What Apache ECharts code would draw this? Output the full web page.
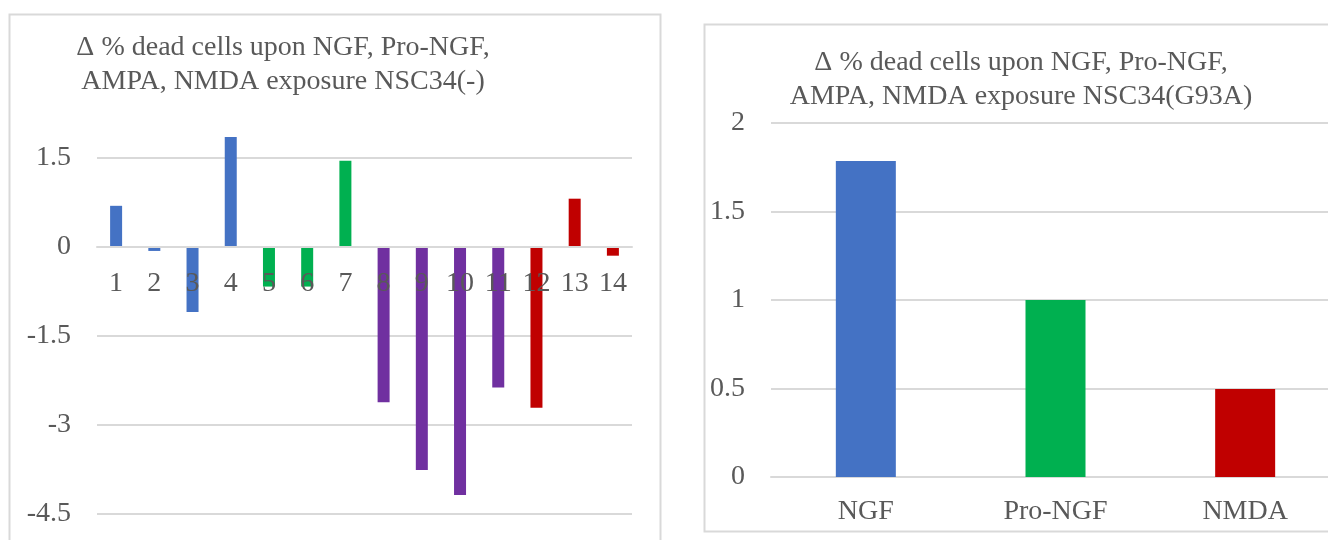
<!DOCTYPE html>
<html>
<head>
<meta charset="utf-8">
<script src="https://cdn.jsdelivr.net/npm/echarts@6/dist/echarts.min.js"></script>
<style>
html,body{margin:0;padding:0;background:#fff;}
#c{width:1328px;height:540px;}
</style>
</head>
<body>
<div id="c"></div>
<script>
// ---- data ----
const leftTitle = 'Δ % dead cells upon NGF, Pro-NGF,\nAMPA, NMDA exposure NSC34(-)';
const rightTitle = 'Δ % dead cells upon NGF, Pro-NGF,\nAMPA, NMDA exposure NSC34(G93A)';
const leftCategories = ['1','2','3','4','5','6','7','8','9','10','11','12','13','14'];
const leftValues = [0.69, -0.07, -1.10, 1.85, -0.67, -0.67, 1.45, -2.62, -3.76, -4.18, -2.37, -2.71, 0.81, -0.15];
const leftGroups = [0, 0, 0, 0, 1, 1, 1, 2, 2, 2, 2, 3, 3, 3];
const rightCategories = ['NGF', 'Pro-NGF', 'NMDA'];
const rightValues = [1.785, 1.0, 0.497];
const rightGroups = [0, 1, 3];

// ---- styles ----
const groupColors = ['#4472C4', '#00B050', '#7030A0', '#C00000'];
const FONT = 'Liberation Serif';
const TXT = '#595959';
const GRID = '#d9d9d9';

const chart = echarts.init(document.getElementById('c'), null, {renderer: 'canvas'});

const titleStyle = {fontFamily: FONT, fontSize: 28, fontWeight: 'normal', color: TXT, lineHeight: 34};
const labelStyle = {fontFamily: FONT, fontSize: 28, color: TXT};

// left value axis range: the category axis sits on the zero line
const L_MIN = -4.5, L_MAX = 1.95, L_TOP = 131, L_H = 383;
const zeroOffset = -Math.round(L_H * (0 - L_MIN) / (L_MAX - L_MIN));

chart.setOption({
  animation: false,
  backgroundColor: '#fff',
  graphic: [
    {type: 'rect', shape: {x: 9.5, y: 14.5, width: 651, height: 600}, style: {fill: 'none', stroke: GRID, lineWidth: 2}, z: -1},
    {type: 'rect', shape: {x: 704.5, y: 24.5, width: 700, height: 507}, style: {fill: 'none', stroke: GRID, lineWidth: 2}, z: -1}
  ],
  title: [
    {text: leftTitle, left: 283, top: 31, textAlign: 'center', padding: 0, textStyle: titleStyle},
    {text: rightTitle, left: 1021, top: 46, textAlign: 'center', padding: 0, textStyle: titleStyle}
  ],
  grid: [
    {left: 97, top: L_TOP, width: 535, height: L_H, containLabel: false, outerBoundsMode: 'none'},
    {left: 771, top: 123, width: 569, height: 354, containLabel: false, outerBoundsMode: 'none'}
  ],
  xAxis: [
    {
      type: 'category', gridIndex: 0, data: leftCategories, z: 10,
      position: 'bottom', offset: zeroOffset,
      axisLine: {onZero: false, lineStyle: {color: GRID, width: 2}},
      axisTick: {show: false},
      axisLabel: Object.assign({margin: 23, interval: 0}, labelStyle),
      splitLine: {show: false}
    },
    {
      type: 'category', gridIndex: 1, data: rightCategories,
      axisLine: {lineStyle: {color: GRID, width: 2}},
      axisTick: {show: false},
      axisLabel: Object.assign({margin: 21, interval: 0}, labelStyle),
      splitLine: {show: false}
    }
  ],
  yAxis: [
    {
      type: 'value', gridIndex: 0, min: L_MIN, max: L_MAX, interval: 1.5,
      axisLine: {show: false}, axisTick: {show: false},
      axisLabel: Object.assign({margin: 26, showMaxLabel: false}, labelStyle),
      splitLine: {show: true, showMaxLine: false, lineStyle: {color: GRID, width: 2}}
    },
    {
      type: 'value', gridIndex: 1, min: 0, max: 2, interval: 0.5,
      axisLine: {show: false}, axisTick: {show: false},
      axisLabel: Object.assign({margin: 26}, labelStyle),
      splitLine: {show: true, lineStyle: {color: GRID, width: 2}}
    }
  ],
  series: [
    {
      type: 'bar', xAxisIndex: 0, yAxisIndex: 0, barWidth: 12, z: 2,
      data: leftValues.map((v, i) => ({value: v, itemStyle: {color: groupColors[leftGroups[i]]}}))
    },
    {
      type: 'bar', xAxisIndex: 1, yAxisIndex: 1, barWidth: 60,
      data: rightValues.map((v, i) => ({value: v, itemStyle: {color: groupColors[rightGroups[i]]}}))
    }
  ]
});
</script>
</body>
</html>
